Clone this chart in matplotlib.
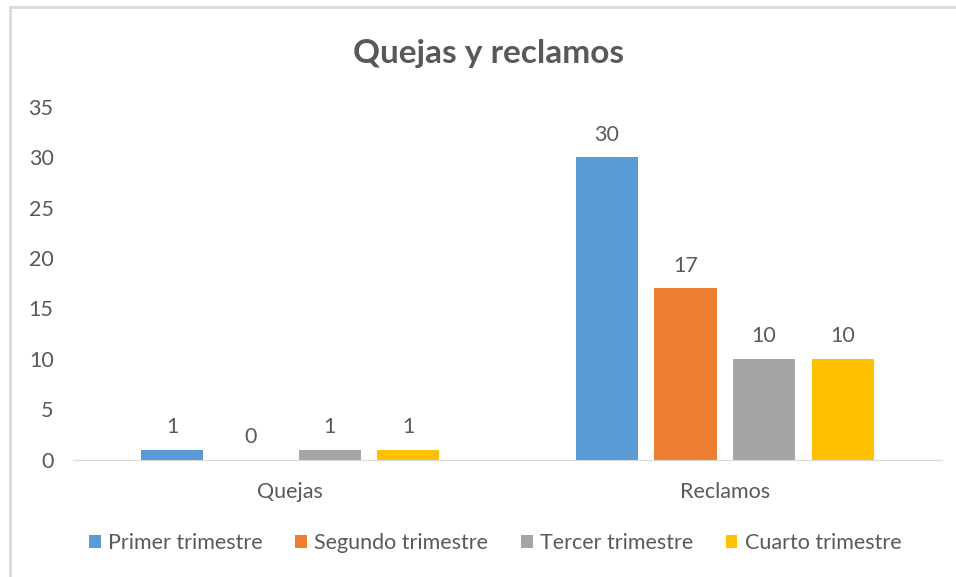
import matplotlib
matplotlib.use('Agg')
import matplotlib.pyplot as plt
import numpy as np

categorias = ['Quejas', 'Reclamos']
series = ['Primer trimestre', 'Segundo trimestre', 'Tercer trimestre', 'Cuarto trimestre']
primer = [1, 30]
segundo = [0, 17]
tercer = [1, 10]
cuarto = [1, 10]
valores = [primer, segundo, tercer, cuarto]
colores = ['#5B9BD5', '#ED7D31', '#A5A5A5', '#FFC000']

plt.rcParams['font.family'] = ['Lato', 'DejaVu Sans']
gris = '#595959'
fs = 15.5

fig = plt.figure(figsize=(9.56, 5.77), dpi=100)
ax = fig.add_axes([0.0764, 0.2028, 0.909, 0.6126])

x = np.arange(len(categorias))
ancho = 0.143
paso = 0.181
for i, (nombre, vals, col) in enumerate(zip(series, valores, colores)):
    pos = x + (i - 1.5) * paso
    barras = ax.bar(pos, vals, width=ancho, color=col, label=nombre, zorder=2)
    for b, v in zip(barras, vals):
        ax.annotate(str(v), (b.get_x() + b.get_width() / 2, v), xytext=(0, 9),
                    textcoords='offset points', ha='center', va='bottom',
                    fontsize=fs, color=gris)

ax.set_xlim(-0.5, 1.5)
ax.set_ylim(0, 35)
ax.set_yticks(range(0, 36, 5))
ax.set_xticks(x)
ax.set_xticklabels(categorias)
ax.tick_params(axis='both', length=0, labelsize=fs, labelcolor=gris)
ax.tick_params(axis='y', pad=14)
ax.tick_params(axis='x', pad=16)
for s in ['top', 'right', 'left']:
    ax.spines[s].set_visible(False)
ax.spines['bottom'].set_color('#D9D9D9')

fig.text(0.511, 0.908, 'Quejas y reclamos', ha='center', va='center',
         fontsize=24, fontweight='bold', color=gris)

leg = fig.legend(loc='center', bbox_to_anchor=(0.518, 0.059), ncol=4, frameon=False,
                 fontsize=fs, handlelength=0.55, handleheight=0.55, handletextpad=0.35,
                 columnspacing=1.5, labelcolor=gris)

# borde del area del grafico
fig.add_artist(plt.Line2D([10 / 956, 10 / 956], [0, 1 - 7 / 577], transform=fig.transFigure,
                          color='#D9D9D9', lw=2))
fig.add_artist(plt.Line2D([10 / 956, 1], [1 - 7 / 577, 1 - 7 / 577], transform=fig.transFigure,
                          color='#D9D9D9', lw=2))

fig.savefig('out.png', dpi=100)
